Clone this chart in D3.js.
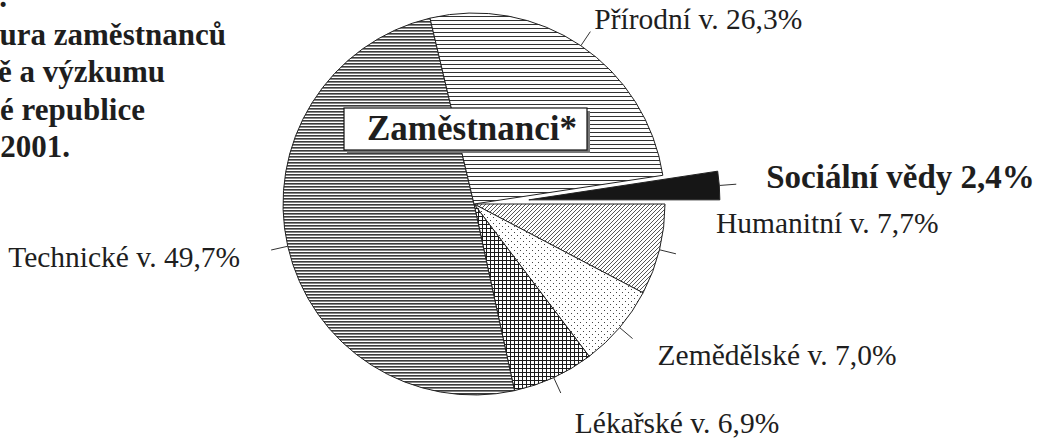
<!DOCTYPE html>
<html>
<head>
<meta charset="utf-8">
<script src="https://cdn.jsdelivr.net/npm/d3@7"></script>
<style>
  body { margin: 0; background: #fff; }
  svg { display: block; }
</style>
</head>
<body>
<div id="chart"></div>
<script>
"use strict"
// Data (clockwise from 3 o'clock, as in the original)
var categories = ["Humanitní v.", "Zemědělské v.", "Lékařské v.", "Technické v.", "Přírodní v.", "Sociální vědy"];
var shares = [7.7, 7.0, 6.9, 49.7, 26.3, 2.4];
var fills = ["url(#hatchDiag)", "url(#dots)", "url(#cross)", "url(#stripesDense)", "url(#stripesThin)", "#161616"];
var titleLines = ["Obr.", "Struktura zaměstnanců", "ve vědě a výzkumu", "v České republice", "v roce 2001."];
var boxTitle = "Zaměstnanci*";
var highlighted = "Sociální vědy"; // exploded slice, bold label

// Layout
var width = 1050;
var height = 440;
var cx = 474, cy = 204, radius = 191;
var explode = 55;
var leaderLen = 17;
// label offset from the outer end of each leader line
var labelOffsets = [[40, -21], [25, 26], [14, 40], [-31, 17], [4, -3], [30, 4]];
var titleEnds = [7, 226, 165, 145, 70];

var data = categories.map(function (c, i) { return {name: c, value: shares[i], fill: fills[i], off: labelOffsets[i]}; });
var fmt = function (v) { return d3.format(".1f")(v).replace(".", ",") + "%"; };

var svg = d3.select("#chart").append("svg")
    .attr("width", width)
    .attr("height", height);

// Patterns
var defs = svg.append("defs");

var p = defs.append("pattern").attr("id", "stripesDense")
    .attr("patternUnits", "userSpaceOnUse").attr("width", 4).attr("height", 3);
p.append("rect").attr("width", 4).attr("height", 3).attr("fill", "#fff");
p.append("rect").attr("y", 0).attr("width", 4).attr("height", 1).attr("fill", "#3c3c3c");
p.append("rect").attr("y", 1).attr("width", 4).attr("height", 1).attr("fill", "#858585");

p = defs.append("pattern").attr("id", "stripesThin")
    .attr("patternUnits", "userSpaceOnUse").attr("width", 4).attr("height", 4);
p.append("rect").attr("width", 4).attr("height", 4).attr("fill", "#fff");
p.append("rect").attr("width", 4).attr("height", 1).attr("fill", "#333");

p = defs.append("pattern").attr("id", "hatchDiag")
    .attr("patternUnits", "userSpaceOnUse").attr("width", 4).attr("height", 4);
p.append("rect").attr("width", 4).attr("height", 4).attr("fill", "#fff");
p.append("path").attr("d", "M0,4 L4,0 M-1,1 L1,-1 M3,5 L5,3")
    .attr("stroke", "#444").attr("stroke-width", 0.9);

p = defs.append("pattern").attr("id", "dots")
    .attr("patternUnits", "userSpaceOnUse").attr("width", 6).attr("height", 6);
p.append("rect").attr("width", 6).attr("height", 6).attr("fill", "#fff");
p.append("rect").attr("x", 1).attr("y", 1).attr("width", 1).attr("height", 1).attr("fill", "#444");
p.append("rect").attr("x", 4).attr("y", 4).attr("width", 1).attr("height", 1).attr("fill", "#444");

p = defs.append("pattern").attr("id", "cross")
    .attr("patternUnits", "userSpaceOnUse").attr("width", 4).attr("height", 4);
p.append("rect").attr("width", 4).attr("height", 4).attr("fill", "#fff");
p.append("rect").attr("width", 1).attr("height", 4).attr("fill", "#1a1a1a");
p.append("rect").attr("width", 4).attr("height", 1).attr("fill", "#1a1a1a");

// Pie
var pie = d3.pie().sort(null)
    .value(function (d) { return d.value; })
    .startAngle(Math.PI / 2)
    .endAngle(Math.PI / 2 + 2 * Math.PI);
var arc = d3.arc().innerRadius(0).outerRadius(radius);
var arcs = pie(data);

function mid(d) { return (d.startAngle + d.endAngle) / 2; }
function shift(d) { return d.data.name === highlighted ? explode : 0; }
function polar(a, r) { return [cx + r * Math.sin(a), cy - r * Math.cos(a)]; }

var g = svg.append("g");

g.selectAll(".slice")
    .data(arcs)
    .enter()
    .append("path")
    .attr("class", "slice")
    .attr("d", arc)
    .attr("transform", function (d) {
        var pt = polar(mid(d), shift(d));
        return "translate(" + pt[0] + "," + pt[1] + ")";
    })
    .attr("fill", function (d) { return d.data.fill; })
    .attr("stroke", "#222")
    .attr("stroke-width", 1)
    .attr("stroke-linejoin", "round");

// Leader lines
g.selectAll(".leader")
    .data(arcs)
    .enter()
    .append("line")
    .attr("class", "leader")
    .attr("x1", function (d) { return polar(mid(d), radius + shift(d))[0]; })
    .attr("y1", function (d) { return polar(mid(d), radius + shift(d))[1]; })
    .attr("x2", function (d) { return polar(mid(d), radius + shift(d) + leaderLen)[0]; })
    .attr("y2", function (d) { return polar(mid(d), radius + shift(d) + leaderLen)[1]; })
    .attr("stroke", "#333")
    .attr("stroke-width", 1);

// Labels
g.selectAll(".label")
    .data(arcs)
    .enter()
    .append("text")
    .attr("class", "label")
    .attr("x", function (d) { return polar(mid(d), radius + shift(d) + leaderLen)[0] + d.data.off[0]; })
    .attr("y", function (d) { return polar(mid(d), radius + shift(d) + leaderLen)[1] + d.data.off[1]; })
    .attr("text-anchor", function (d) { return d.data.off[0] < 0 ? "end" : "start"; })
    .style("font-family", "'Liberation Serif', 'Times New Roman', serif")
    .style("font-size", function (d) { return d.data.name === highlighted ? "33px" : "29.5px"; })
    .style("font-weight", function (d) { return d.data.name === highlighted ? "bold" : "normal"; })
    .attr("fill", "#1e1e1e")
    .text(function (d) { return d.data.name + " " + fmt(d.data.value); });

// Boxed caption with shadow
var box = svg.append("g").attr("transform", "translate(" + (cx - 130) + "," + (cy - 96) + ")");
box.append("rect").attr("x", 3).attr("y", 3).attr("width", 243).attr("height", 42).attr("fill", "#777");
box.append("rect").attr("width", 243).attr("height", 42)
    .attr("fill", "#fff").attr("stroke", "#111").attr("stroke-width", 1.2);
box.append("text")
    .attr("x", 128).attr("y", 32)
    .attr("text-anchor", "middle")
    .style("font-family", "'Liberation Serif', 'Times New Roman', serif")
    .style("font-size", "35px")
    .style("font-weight", "bold")
    .attr("fill", "#1e1e1e")
    .text(boxTitle);

// Title, cut off at the left edge as in the original
svg.append("g").selectAll(".title")
    .data(titleLines)
    .enter()
    .append("text")
    .attr("class", "title")
    .attr("x", function (d, i) { return titleEnds[i]; })
    .attr("y", function (d, i) { return 7 + i * 37.5; })
    .attr("text-anchor", "end")
    .style("font-family", "'Liberation Serif', 'Times New Roman', serif")
    .style("font-size", "31px")
    .style("font-weight", "bold")
    .attr("fill", "#1e1e1e")
    .text(function (d) { return d; });
</script>
</body>
</html>
